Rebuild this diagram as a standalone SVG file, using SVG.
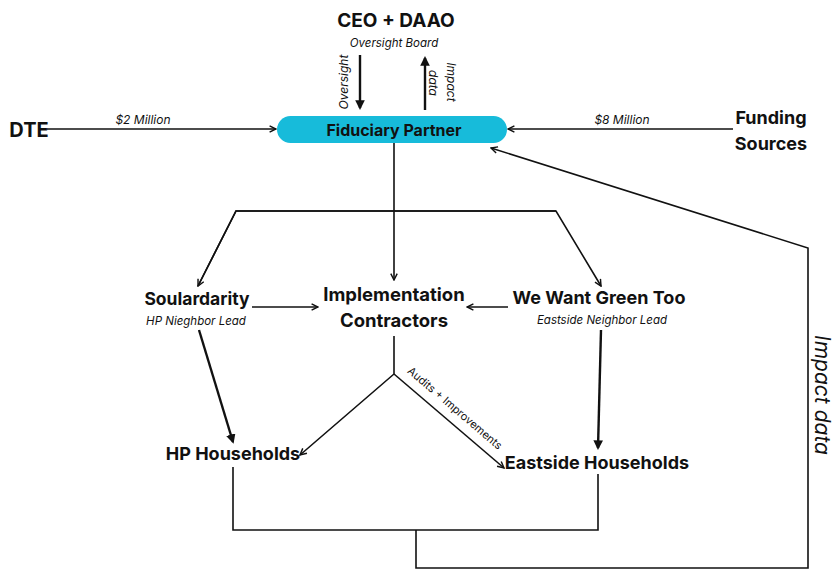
<svg xmlns="http://www.w3.org/2000/svg" width="833" height="570" viewBox="0 0 833 570">
<style>
.b{font-family:Inter,"Liberation Sans",sans-serif;font-weight:700;fill:#111;text-anchor:middle;dominant-baseline:central}
.i{font-family:Inter,"Liberation Sans",sans-serif;font-style:italic;fill:#111;text-anchor:middle;dominant-baseline:central}
.r{font-family:Inter,"Liberation Sans",sans-serif;fill:#111;text-anchor:middle;dominant-baseline:central}
.c{fill:none;stroke:#111;stroke-width:1.6}
.t{fill:none;stroke:#111;stroke-width:2.4}
</style>
<defs>
<marker id="a" viewBox="0 0 10 10" refX="9" refY="5" markerWidth="5" markerHeight="5" orient="auto" markerUnits="strokeWidth">
<path d="M1,1 L9,5 L1,9" fill="none" stroke="#111" stroke-width="1.8"/>
</marker>
<marker id="at" viewBox="0 0 10 10" refX="8" refY="5" markerWidth="4" markerHeight="4" orient="auto" markerUnits="strokeWidth">
<path d="M0,0 L10,5 L0,10 Z" fill="#111"/>
</marker>
</defs>
<g id="connectors">
<line class="t" x1="360" y1="55" x2="360" y2="108" marker-end="url(#at)"/>
<line class="t" x1="425" y1="110" x2="425" y2="58" marker-end="url(#at)"/>
<line class="c" x1="47" y1="129" x2="276" y2="129" marker-end="url(#a)"/>
<line class="c" x1="733" y1="129" x2="508" y2="129" marker-end="url(#a)"/>
<line class="c" x1="394" y1="143" x2="394" y2="280" marker-end="url(#a)"/>
<polyline class="c" points="198,286 236,211 556,211 601,286" marker-end="url(#a)"/>
<polyline class="c" points="556,211 236,211 198,286" marker-end="url(#a)"/>
<line class="c" x1="252" y1="307" x2="318" y2="307" marker-end="url(#a)"/>
<line class="c" x1="508" y1="307" x2="467" y2="307" marker-end="url(#a)"/>
<line class="t" x1="199" y1="330" x2="233" y2="442" marker-end="url(#at)"/>
<line class="t" x1="601" y1="330" x2="598" y2="448" marker-end="url(#at)"/>
<polyline class="c" points="394,336 394,374 300,455" marker-end="url(#a)"/>
<polyline class="c" points="394,374 504,468" marker-end="url(#a)"/>
<polyline class="c" points="233,467 233,530 598,530 598,474"/>
<polyline class="c" points="416,530 416,568 808,568 808,248 491,148" marker-end="url(#a)"/>
<text class="i" font-size="12" transform="translate(343,82) rotate(-90)">Oversight</text>
<text class="i" font-size="12" transform="translate(451,82) rotate(90)">Impact</text>
<text class="i" font-size="12" transform="translate(433,83) rotate(90)">data</text>
<text class="i" font-size="12" x="143" y="119">$2 Million</text>
<text class="i" font-size="12" x="622" y="119">$8 Million</text>
<text class="r" font-size="11" transform="translate(455,408) rotate(40.5)">Audits + Improvements</text>
<text class="i" font-size="21" transform="translate(822,395) rotate(90)">Impact data</text>
</g>
<g id="ceo">
<text class="b" font-size="19" x="396" y="20">CEO + DAAO</text>
<text class="i" font-size="11.5" x="394" y="43">Oversight Board</text>
</g>
<g id="fiduciary">
<rect x="277" y="116" width="230" height="27" rx="13.5" fill="#17BBDA"/>
<text class="b" font-size="16" x="394" y="129.5">Fiduciary Partner</text>
</g>
<g id="dte"><text class="b" font-size="20" x="29" y="130">DTE</text></g>
<g id="funding">
<text class="b" font-size="18" x="771" y="117">Funding</text>
<text class="b" font-size="18" x="771" y="143">Sources</text>
</g>
<g id="soulardarity">
<text class="b" font-size="17.5" x="197" y="298">Soulardarity</text>
<text class="i" font-size="11.5" x="196" y="321">HP Nieghbor Lead</text>
</g>
<g id="contractors">
<text class="b" font-size="18.5" x="394" y="294">Implementation</text>
<text class="b" font-size="18.5" x="394" y="320">Contractors</text>
</g>
<g id="wwgt">
<text class="b" font-size="18" x="599" y="297">We Want Green Too</text>
<text class="i" font-size="11.5" x="602" y="320">Eastside Neighbor Lead</text>
</g>
<g id="hp"><text class="b" font-size="18" x="233" y="453">HP Households</text></g>
<g id="eastside"><text class="b" font-size="18" x="597" y="462">Eastside Households</text></g>
</svg>
